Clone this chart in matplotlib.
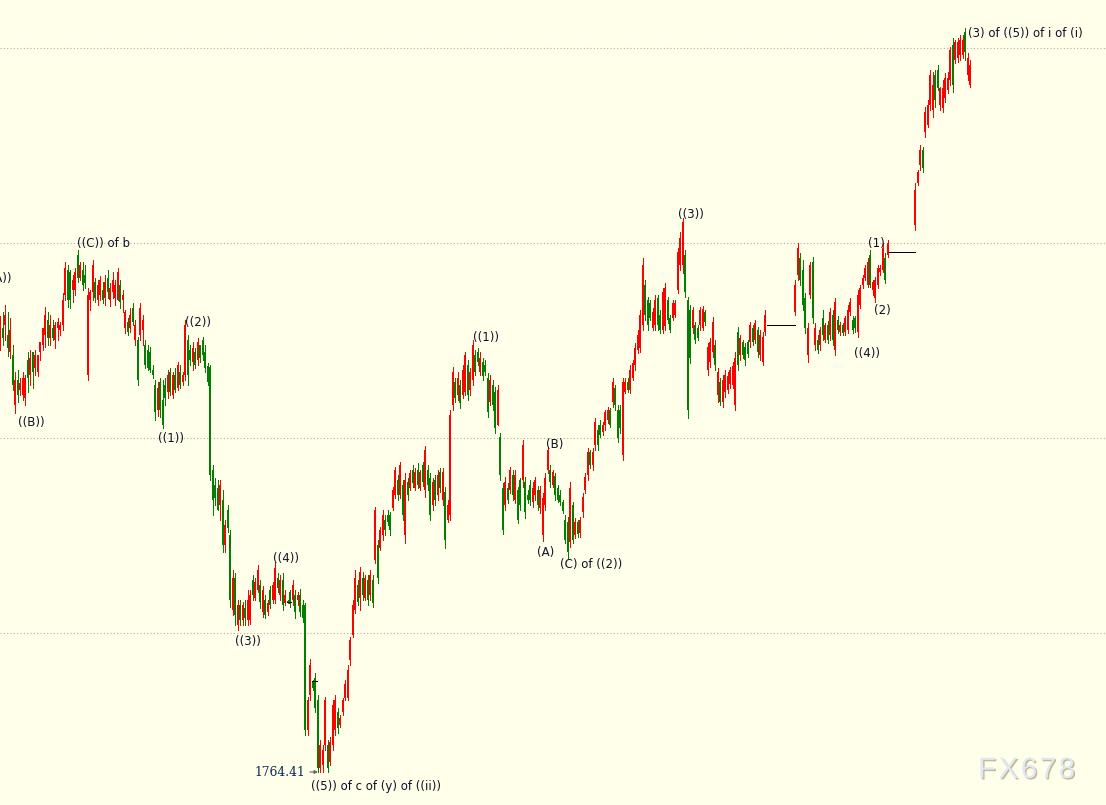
import numpy as np
import matplotlib
matplotlib.use("Agg")
import matplotlib.pyplot as plt
import matplotlib.patheffects as pe

highs_a = [316,312,305,312,318,345,372,370,378,372,
           375,352,350,356,350,362,345,340,307,312,
           315,320,322,318,322,293,262,265,270,275,
           268,250,262,262,265,288,290,260,278,280,
           276,282,275,270,283,272,280,268,280,290,
           310,318,308,303,320,337,303,315,340,345,
           347,365,380,382,378,380,378,370,368,372,
           368,362,365,372,320,335,345,342,348,338,
           345,337,345,363,365,465,478,480,480,490,
           520,505,530,570,573,600,600,602,600,590,
           590,575,578,565,580,586,595,600,586,582,
           562,573,575,573,590,600,590,580,590,592,
           589,600,603,697,659,680,673,695,740,745,
           697,740,737,700,695,708,715,698,680,665,
           637,600,570,580,567,572,575,575,570,575,
           507,540,527,510,515,510,512,487,467,475,
           462,480,473,478,470,465,468,463,470,462,
           446,465,473,478,475,470,468,468,487,500,
           410,367,378,372,380,365,352,360,368,340,
           350,348,352,358,360,373,375,380,387,385,
           433,483,477,483,467,470,470,487,478,440,
           477,490,480,482,477,486,486,493,473,447,
           465,470,473,485,490,500,515,517,482,502,
           518,520,517,493,473,448,450,448,418,425,
           420,422,410,407,408,378,385,405,405,378,
           378,378,365,360,343,330,310,258,280,297,
           300,308,295,295,310,288,283,297,315,300,
           300,248,232,218,250,297,305,307,322,325,
           307,306,310,343,338,317,340,368,378,375,
           370,372,367,362,352,327,335,340,343,340,
           322,325,320,327,330,332,310]
lows_a = [350,345,340,356,358,390,413,402,395,400,
          405,392,385,388,375,376,360,350,347,345,
          345,340,348,340,335,330,300,307,308,302,
          295,282,280,290,288,380,310,300,302,305,
          300,303,305,298,306,298,305,300,308,312,
          333,335,332,325,345,385,340,345,368,370,
          372,378,420,416,417,428,405,398,395,398,
          392,390,388,385,380,385,365,370,368,365,
          362,360,372,385,480,515,505,510,520,552,
          552,532,607,615,625,630,625,625,625,625,
          624,600,600,592,608,617,618,615,608,603,
          603,592,600,610,605,603,607,605,618,605,
          616,622,735,735,700,690,712,772,772,772,
          750,772,765,750,735,733,727,715,700,700,
          665,637,613,605,610,600,600,605,600,607,
          563,583,550,540,535,525,535,510,498,500,
          498,520,543,500,490,487,490,488,490,486,
          497,490,520,510,505,500,492,505,548,522,
          520,410,402,400,408,398,395,400,395,385,
          375,365,375,380,375,417,405,410,433,425,
          480,534,510,503,493,500,503,523,510,487,
          518,503,505,507,500,510,513,541,510,473,
          487,487,500,502,505,513,543,558,547,543,
          538,537,537,517,493,480,468,470,450,450,
          437,435,430,423,427,407,410,442,433,460,
          393,392,393,380,370,353,352,330,320,330,
          320,330,330,330,333,333,330,323,332,320,
          317,293,270,273,297,418,363,333,343,340,
          330,330,325,375,367,357,370,402,405,407,
          397,393,388,388,410,370,360,358,365,357,
          347,345,343,357,360,365,335]
opens_a = [340,328,325,335,352,355,405,380,390,395,
           398,360,375,352,368,372,352,345,335,320,
           338,328,340,328,330,325,295,270,272,290,
           290,255,278,270,275,375,300,292,282,300,
           295,290,298,278,300,292,298,300,285,300,
           328,322,328,308,340,340,335,330,345,350,
           352,370,385,410,382,400,385,392,372,395,
           375,388,372,382,375,340,350,362,352,360,
           345,340,352,366,367,470,485,488,505,500,
           545,510,535,610,578,625,605,620,608,620,
           620,580,598,590,585,612,600,612,590,600,
           600,578,595,580,603,601,592,600,595,600,
           595,605,605,730,695,682,678,700,768,765,
           745,745,762,745,730,712,725,712,698,698,
           660,635,610,585,598,578,598,580,595,580,
           560,545,548,535,520,515,515,508,495,480,
           495,485,535,482,488,470,488,470,488,465,
           490,470,478,505,480,495,472,500,492,520,
           515,405,382,395,385,395,392,365,390,380,
           355,352,372,362,365,378,402,385,392,425,
           437,488,505,488,490,475,500,490,480,480,
           482,495,485,502,495,490,508,535,505,470,
           470,485,476,488,495,502,520,522,542,505,
           535,522,533,512,490,475,452,465,445,430,
           425,432,425,420,410,402,388,410,410,455,
           392,382,390,378,365,350,348,325,285,300,
           303,328,325,298,315,330,326,300,318,318,
           315,290,265,265,255,300,310,328,325,328,
           325,328,312,370,362,352,345,395,382,402,
           392,390,384,385,405,332,355,342,347,342,
           342,328,340,330,355,362,332]
closes_a = [325,338,315,348,330,385,380,395,383,378,
            378,378,358,372,355,355,342,328,315,338,
            325,338,325,322,325,300,268,300,300,280,
            272,278,265,285,283,295,292,265,298,285,
            280,300,282,292,288,280,285,272,302,295,
            312,332,315,322,325,380,308,320,365,368,
            370,375,412,388,410,425,398,375,392,375,
            390,365,385,375,325,375,360,348,365,342,
            358,355,368,382,475,500,498,510,485,545,
            525,528,600,578,615,605,620,605,618,600,
            595,595,582,570,602,590,615,603,605,585,
            568,588,580,605,595,602,604,585,612,595,
            612,618,730,700,665,688,708,768,745,750,
            700,768,742,705,700,728,718,700,684,670,
            640,605,578,602,572,595,578,600,575,603,
            510,578,530,515,530,522,530,490,470,495,
            465,515,480,495,473,483,472,485,472,482,
            450,485,515,482,500,475,488,472,540,505,
            415,372,398,378,403,370,355,395,372,345,
            372,362,358,376,372,412,380,405,428,390,
            475,530,482,500,470,495,475,520,505,445,
            512,500,500,488,480,505,490,498,478,450,
            482,472,495,500,502,511,540,552,488,540,
            522,534,520,497,477,452,465,452,422,445,
            435,425,412,410,425,382,405,438,428,382,
            382,390,370,363,348,335,315,265,315,325,
            318,312,300,325,330,292,288,320,330,303,
            303,252,238,222,292,410,358,310,340,338,
            310,309,322,347,342,322,365,372,402,380,
            375,376,370,366,358,365,338,355,360,354,
            325,342,323,352,335,337,315]

highs_b = [280,243,253,260,293,323,262,257,323,335,
           327,310,323,321,308,310,298,316,322,323,
           316,305,298,316,316,290,285,275,265,258,
           250,280,277,265,265,243,253,240]
lows_b = [315,280,285,310,333,362,298,323,350,353,
          350,340,342,343,340,345,355,333,335,335,
          335,333,315,333,332,337,308,288,280,287,
          287,295,302,288,275,272,283,257]
opens_b = [312,275,258,270,298,355,295,262,345,340,
           345,318,340,325,335,315,350,320,332,325,
           332,330,312,320,318,332,305,285,278,285,
           255,290,298,285,272,270,258,255]
closes_b = [285,248,280,305,328,328,265,318,328,350,
            330,335,325,340,312,340,302,330,325,333,
            318,310,302,330,328,295,288,278,268,262,
            285,282,280,268,268,248,280,243]

highs_c = [183,170,145,147,107,100,70,72,70,65,87,80,73,72,47,38,40,38,35,35,28,53,60]
lows_c = [230,185,170,172,137,127,110,117,107,90,110,112,102,93,85,92,63,62,60,58,60,80,87]
opens_c = [225,183,165,150,132,125,105,110,75,70,105,108,98,90,80,45,60,58,55,55,32,75,85]
closes_c = [190,172,150,168,112,105,75,85,100,88,88,88,78,78,50,85,42,42,40,40,52,58,65]

# Sessions start at these positions, bars are spaced evenly inside a session
session_starts = [0, 795, 915]
bar_step = 2.5

# Flat single price stretches (black)
flat_starts = [287, 312, 767, 889]
flat_ends = [291, 317, 795, 915]
flat_levels = [602, 681, 325, 252]

grid_levels = [48, 243, 438, 633]

wave_labels = ["((A))", "((C)) of b", "((B))", "((1))", "((2))", "((3))", "((4))",
               "((5)) of c of (y) of ((ii))", "((1))", "(A)", "(B)", "(C) of ((2))",
               "((3))", "((4))", "(1)", "(2)", "(3) of ((5)) of i of (i)"]
label_x = [-15, 77, 18, 158, 185, 235, 273, 311, 473, 537, 546, 560, 678, 854, 868, 874, 968]
label_y = [278, 243, 422, 438, 322, 641, 558, 786, 337, 552, 444, 564, 214, 353, 243, 310, 33]

BG = "#FFFFEA"
UP = "#FF0000"
DOWN = "#008000"

fig = plt.figure(figsize=(11.06, 8.05), dpi=100, facecolor=BG)
ax = fig.add_axes([0, 0, 1, 1])
ax.set_facecolor(BG)
ax.set_xlim(0, 1106)
ax.set_ylim(805, 0)
ax.axis("off")

ax.hlines(grid_levels, 0, 1106, colors="#b0b0a0", linewidth=0.8, linestyles=(0, (1, 2)), zorder=1)

sessions = [(highs_a, lows_a, opens_a, closes_a),
            (highs_b, lows_b, opens_b, closes_b),
            (highs_c, lows_c, opens_c, closes_c)]
for start, (h, l, o, c) in zip(session_starts, sessions):
    h, l, o, c = map(np.array, (h, l, o, c))
    x = start + bar_step * np.arange(len(h))
    colors = np.where(c < o, UP, DOWN)
    ax.vlines(x, h, l, colors=colors, linewidth=0.7, antialiased=False, zorder=2)
    ax.vlines(x, o, c, colors=colors, linewidth=1.35, antialiased=False, zorder=3)

ax.hlines(flat_levels, flat_starts, flat_ends, colors="black", linewidth=0.6, antialiased=False, zorder=3)

for txt, tx, ty in zip(wave_labels, label_x, label_y):
    ax.text(tx, ty, txt, fontsize=8.5, family="DejaVu Sans", color="#101028",
            ha="left", va="center", zorder=5)

# Low price marker
ax.annotate("1764.41", xy=(318, 772), xytext=(255, 772), fontsize=8.8, family="DejaVu Serif",
            color="#0a2a55", va="center", ha="left", zorder=5,
            arrowprops=dict(arrowstyle="-|>", color="#666666", lw=0.8, mutation_scale=5,
                            shrinkA=1, shrinkB=0))

# Watermark
ax.text(978, 770, "F\u200aX\u200a6\u200a7\u200a8", fontsize=21.3, family="Liberation Sans",
        color="#DFE9F6", ha="left", va="center", zorder=6,
        path_effects=[pe.withSimplePatchShadow(offset=(1, -1), shadow_rgbFace="#B5A684", alpha=0.8)])

fig.savefig("out.png", dpi=100, facecolor=BG)
